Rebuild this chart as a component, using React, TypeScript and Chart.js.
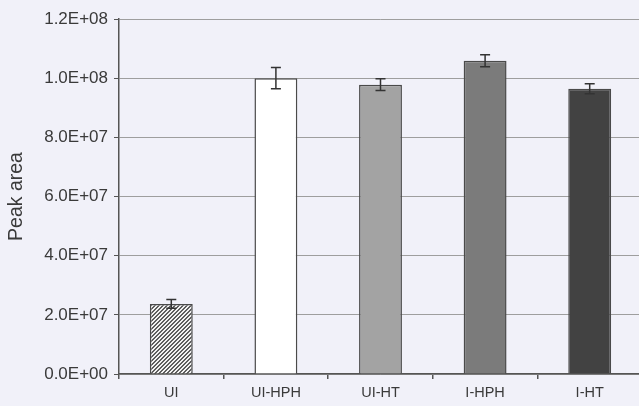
import React, { useEffect, useRef } from "react";
import { Chart, registerables } from "chart.js";

Chart.register(...registerables);

const categories = ["UI", "UI-HPH", "UI-HT", "I-HPH", "I-HT"];
const peakArea = [2.37e7, 1.0e8, 9.78e7, 1.059e8, 9.64e7];
const peakErr = [1.5e6, 3.6e6, 2.0e6, 2.0e6, 1.7e6];
const yTickMin = 0;
const yTickMax = 1.2e8;
const yTickStep = 2e7;
const yTitle = "Peak area";

const fmtExp = (v: number) => {
  const [m, e] = v.toExponential(1).split("e");
  const n = parseInt(e, 10);
  return m + "E" + (n < 0 ? "-" : "+") + String(Math.abs(n)).padStart(2, "0");
};

function makeHatch(): CanvasPattern | string {
  const c = document.createElement("canvas");
  c.width = 4;
  c.height = 4;
  const g = c.getContext("2d");
  if (!g) return "#999";
  g.fillStyle = "#f2f2f2";
  g.fillRect(0, 0, 4, 4);
  g.fillStyle = "#5e5e5e";
  for (let i = 0; i < 4; i++) {
    g.fillRect(i, 3 - i, 1, 1);
    g.fillRect(i, (4 - i) % 4, 1, 1);
  }
  const p = g.createPattern(c, "repeat");
  return p || "#999";
}

const bgPlugin = {
  id: "bgFill",
  beforeDraw(chart: any) {
    const { ctx, width, height } = chart;
    ctx.save();
    ctx.fillStyle = "#f1f1f9";
    ctx.fillRect(0, 0, width, height);
    ctx.restore();
  },
};

const errPlugin = {
  id: "errBars",
  afterDatasetsDraw(chart: any) {
    const { ctx } = chart;
    const yScale = chart.scales.y;
    const meta = chart.getDatasetMeta(0);
    ctx.save();
    ctx.strokeStyle = "#333333";
    ctx.lineWidth = 1.5;
    meta.data.forEach((bar: any, i: number) => {
      const v = peakArea[i];
      const e = peakErr[i];
      const x = bar.x;
      const yTop = yScale.getPixelForValue(v + e);
      const yBot = yScale.getPixelForValue(v - e);
      const half = 5;
      ctx.beginPath();
      ctx.moveTo(x, yTop);
      ctx.lineTo(x, yBot);
      ctx.moveTo(x - half, yTop);
      ctx.lineTo(x + half, yTop);
      ctx.moveTo(x - half, yBot);
      ctx.lineTo(x + half, yBot);
      ctx.stroke();
    });
    ctx.restore();
  },
};

export default function App() {
  const ref = useRef<HTMLCanvasElement | null>(null);
  useEffect(() => {
    if (!ref.current) return;
    const fills = [makeHatch(), "#ffffff", "#a3a3a3", "#7b7b7b", "#424242"];
    const font = "'Liberation Sans', Arial, sans-serif";
    const chart = new Chart(ref.current, {
      type: "bar",
      data: {
        labels: categories,
        datasets: [
          {
            data: peakArea,
            backgroundColor: fills as any,
            borderColor: "#4a4a4a",
            borderWidth: 1.5,
            barPercentage: 0.41,
            categoryPercentage: 1,
          },
        ],
      },
      options: {
        responsive: false,
        animation: false,
        layout: { padding: { top: 19, right: 3, left: 0, bottom: 0 } },
        plugins: {
          legend: { display: false },
          tooltip: { enabled: false },
        },
        scales: {
          x: {
            grid: {
              drawOnChartArea: false,
              drawTicks: true,
              tickLength: 5,
              tickColor: "#555555",
              lineWidth: 1.5,
            },
            border: { color: "#555555", width: 1.5 },
            ticks: {
              color: "#3a3a3a",
              font: { family: font, size: 14.5 },
              padding: 5,
              maxRotation: 0,
            },
            afterFit(scale: any) {
              scale.height = 32;
            },
          },
          y: {
            min: yTickMin,
            max: yTickMax,
            grid: {
              color: "#9e9e9e",
              lineWidth: 1,
              drawTicks: true,
              tickLength: 5,
              tickColor: "#555555",
            },
            border: { color: "#555555", width: 1.5 },
            ticks: {
              stepSize: yTickStep,
              color: "#3a3a3a",
              font: { family: font, size: 17 },
              padding: 6,
              callback: (v: any) => fmtExp(Number(v)),
            },
            title: {
              display: true,
              text: yTitle,
              color: "#3a3a3a",
              font: { family: font, size: 19.5 },
              padding: { top: 5, bottom: 0 },
            },
            afterFit(scale: any) {
              scale.width = 119;
            },
          },
        },
      },
      plugins: [bgPlugin, errPlugin],
    });
    return () => chart.destroy();
  }, []);
  return (
    <div
      style={{
        position: "fixed",
        left: 0,
        top: 0,
        width: 639,
        height: 406,
        overflow: "hidden",
        background: "#f1f1f9",
      }}
    >
      <canvas ref={ref} width={645} height={406} style={{ display: "block" }} />
    </div>
  );
}
